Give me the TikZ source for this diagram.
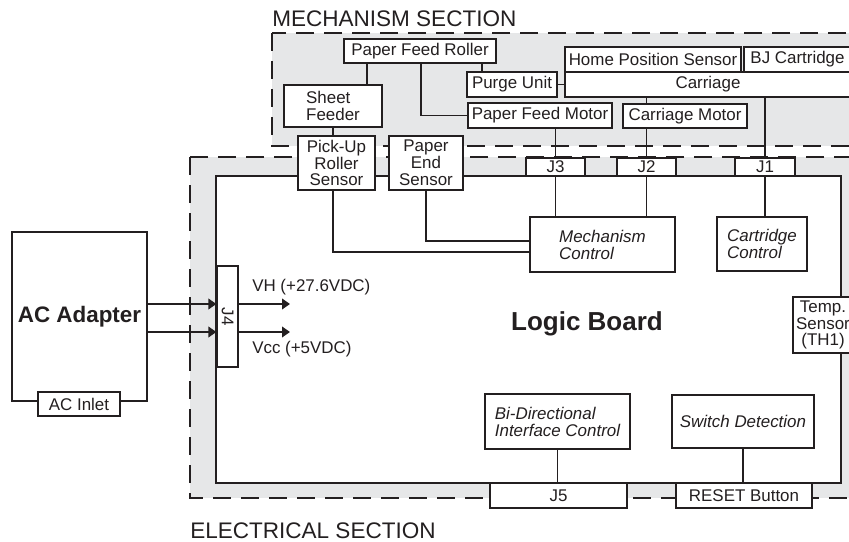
\documentclass[tikz,border=0pt]{standalone}
\usepackage{fontspec}
\setmainfont{Liberation Sans}
\usepackage{graphicx}
\usetikzlibrary{arrows.meta}

\definecolor{ink}{HTML}{231F20}
\definecolor{paneel}{HTML}{E6E7E8}

\tikzset{
  blok/.style={draw=ink, line width=0.9pt, fill=white, inner sep=0pt,
    text=ink, font=\fontsize{12.7}{12.6}\selectfont},
  schuin/.style={blok, font=\fontsize{12.7}{12.8}\selectfont\itshape, align=left},
  draad/.style={draw=ink, line width=1.2pt},
  sectie/.style={draw=ink, line width=1.6pt, dash pattern=on 13.5pt off 7.5pt, fill=paneel},
  titel/.style={text=ink, inner sep=0pt, font=\fontsize{16.9}{18}\selectfont},
  spanning/.style={text=ink, inner sep=0pt, font=\fontsize{12.7}{14}\selectfont},
}

\begin{document}
\begin{tikzpicture}[x=0.75pt, y=-0.75pt, >={Triangle[length=6pt,width=8pt]}]

  \useasboundingbox (0,0) rectangle (849,542);
  \clip (0,0) rectangle (849,542);

  % Secties (achtergrond)
  \draw[sectie] (272,33) rectangle (880,146);
  \draw[sectie] (190,157) rectangle (880,498);
  \draw[ink, line width=1.5pt, fill=white] (216,176) rectangle (841,483);

  \node[titel, anchor=base west] (mechtitel) at (272,27) {MECHANISM SECTION};
  \node[titel, anchor=base west] (elektitel) at (190,538) {ELECTRICAL SECTION};

  % Mechanisme
  \node[blok, minimum width=114pt, minimum height=18pt] (pfr) at (420,51) {Paper Feed Roller};
  \node[blok, minimum width=73.5pt, minimum height=31.5pt, align=left] (sheet) at (333,106) {Sheet\\Feeder};
  \node[blok, minimum width=67.5pt, minimum height=18.75pt] (purge) at (512,84.5) {Purge Unit};
  \node[blok, minimum width=108pt, minimum height=18.75pt] (pfm) at (540,115.5) {Paper Feed Motor};
  \node[blok, minimum width=132pt, minimum height=18.75pt] (hps) at (653,59.5) {Home Position Sensor};
  \node[blok, minimum width=80.25pt, minimum height=18.75pt] (bj) at (797.5,59.5) {BJ Cartridge};
  \node[blok, minimum width=214.5pt, minimum height=18.75pt] (carriage) at (708,84.5) {Carriage};
  \node[blok, minimum width=93pt, minimum height=18pt] (cmotor) at (685,116) {Carriage Motor};

  % Sensoren op de grens
  \node[blok, minimum width=57.75pt, minimum height=40.5pt, align=center] (pickup) at (336.5,163) {Pick-Up\\Roller\\Sensor};
  \node[blok, minimum width=55.5pt, minimum height=40.5pt, align=center] (pend) at (426,163) {Paper\\End\\Sensor};

  % Connectoren
  \node[blok, minimum width=44.25pt, minimum height=13.5pt] (j3) at (555.5,167) {J3};
  \node[blok, minimum width=44.25pt, minimum height=13.5pt] (j2) at (646.5,167) {J2};
  \node[blok, minimum width=45pt, minimum height=13.5pt] (j1) at (765,167) {J1};
  \node[blok, minimum width=102.75pt, minimum height=18.75pt] (j5) at (558.5,495.5) {J5};
  \node[blok, minimum width=102pt, minimum height=18.75pt] (reset) at (744,495.5) {RESET Button};
  \node[blok, minimum width=15.75pt, minimum height=75.75pt] (j4) at (227.5,316.5) {\rotatebox{-90}{J4}};

  % Logic board
  \node[schuin, minimum width=108.75pt, minimum height=41.25pt] (mctrl) at (602.5,244.5) {Mechanism\\Control};
  \node[schuin, minimum width=67.5pt, minimum height=40.5pt] (cctrl) at (762,244) {Cartridge\\Control};
  \node[blok, minimum width=45pt, minimum height=42pt, align=center] (temp) at (823,325) {Temp.\\Sensor\\(TH1)};
  \node[schuin, minimum width=108.75pt, minimum height=41.25pt] (bidir) at (557.5,421.5) {Bi-Directional\\Interface Control};
  \node[schuin, minimum width=106.5pt, minimum height=39.75pt] (swdet) at (743,421.5) {Switch Detection};
  \node[text=ink, font=\fontsize{19.5}{22}\selectfont\bfseries] (logic) at (587,324) {Logic Board};

  % Adapter
  \node[blok, minimum width=101.25pt, minimum height=126.75pt, font=\fontsize{16.8}{18}\selectfont\bfseries] (adapter) at (79.5,316.5) {AC Adapter};
  \node[blok, minimum width=61.5pt, minimum height=18pt] (inlet) at (79,404) {AC Inlet};

  % Verbindingen mechanisme
  \draw[draad] (pfr.south -| 367,0) -- (sheet.north -| 367,0);
  \draw[draad] (pfr.south -| 421,0) |- (pfm.west);
  \draw[draad] (pfr.south -| 482,0) -- (purge.north -| 482,0);
  \draw[draad] (purge.east) -- (carriage.west);
  \draw[draad] (carriage.south -| j2) -- (cmotor.north -| j2);
  \draw[draad] (cmotor.south -| j2) -- (j2.north);
  \draw[draad] (carriage.south -| j1) -- (j1.north);
  \draw[draad] (pfm.south -| j3) -- (j3.north);
  \draw[draad] (sheet.south) -- (pickup.north -| sheet.south);

  % Verbindingen logic board
  \draw[draad] (pickup.south -| sheet.south) |- (mctrl.west |- 0,252);
  \draw[draad] (pend.south) |- (mctrl.west |- 0,241);
  \draw[draad] (j3.south) -- (mctrl.north -| j3);
  \draw[draad] (j2.south) -- (mctrl.north -| j2);
  \draw[draad] (j1.south) -- (cctrl.north -| j1);
  \draw[draad] (bidir.south) -- (j5.north -| bidir.south);
  \draw[draad] (swdet.south) -- (reset.north -| swdet.south);

  % Voeding
  \coordinate (vh) at (290,304);
  \coordinate (vcc) at (290,332);
  \draw[draad, ->] (adapter.east |- vh) -- (j4.west |- vh);
  \draw[draad, ->] (adapter.east |- vcc) -- (j4.west |- vcc);
  \draw[draad, ->] (j4.east |- vh) -- (vh);
  \draw[draad, ->] (j4.east |- vcc) -- (vcc);

  \node[spanning, anchor=west] (vhtekst) at (252,287) {VH (+27.6VDC)};
  \node[spanning, anchor=west] (vcctekst) at (252,349) {Vcc (+5VDC)};

\end{tikzpicture}
\end{document}
